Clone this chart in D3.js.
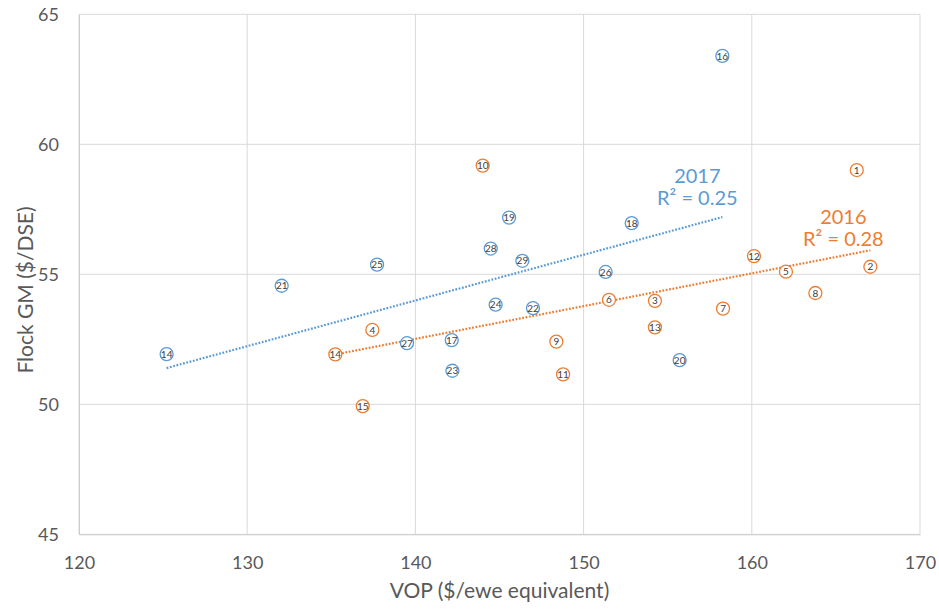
<!DOCTYPE html>
<html>
<head>
<meta charset="utf-8">
<script src="https://cdn.jsdelivr.net/npm/d3@7"></script>
<style>
  html, body { margin: 0; padding: 0; background: #fff; }
  svg { display: block; font-family: Lato, "Open Sans", sans-serif; }
</style>
</head>
<body>
<svg id="chart" width="939" height="610"></svg>
<script>
// Farm ids, VOP ($/ewe equivalent) and flock gross margin ($/DSE) per year
const ids2016 = [1, 2, 3, 4, 5, 6, 7, 8, 9, 10, 11, 12, 13, 14, 15];
const vop2016 = [166.24, 167.05, 154.24, 137.44, 162.03, 151.51, 158.29, 163.78, 148.38, 144.0, 148.78, 160.13, 154.24, 135.24, 136.87];
const gm2016  = [59.01, 55.29, 53.98, 52.86, 55.10, 54.02, 53.68, 54.28, 52.41, 59.18, 51.15, 55.70, 52.96, 51.92, 49.93];

const ids2017 = [14, 16, 17, 18, 19, 20, 21, 22, 23, 24, 25, 26, 27, 28, 29];
const vop2017 = [125.21, 158.25, 142.16, 152.86, 145.57, 155.71, 132.05, 146.99, 142.2, 144.77, 137.72, 151.31, 139.50, 144.48, 146.36];
const gm2017  = [51.93, 63.40, 52.47, 56.97, 57.18, 51.70, 54.56, 53.70, 51.29, 53.83, 55.37, 55.09, 52.35, 55.99, 55.52];

const seriesNames = ["2016", "2017"];
const rSquaredLabels = ["R² = 0.28", "R² = 0.25"];

const xTicks = [120, 130, 140, 150, 160, 170];
const yTicks = [45, 50, 55, 60, 65];
const xTitle = "VOP ($/ewe equivalent)";
const yTitle = "Flock GM ($/DSE)";

const colors = { "2016": "#ED7D31", "2017": "#5B9BD5" };

const svg = d3.select("#chart");
const plotLeft = 79, plotRight = 920, plotTop = 14.3, plotBottom = 534.3;

const x = d3.scaleLinear().domain([120, 170]).range([plotLeft, plotRight]);
const y = d3.scaleLinear().domain([45, 65]).range([plotBottom, plotTop]);

// gridlines
const grid = svg.append("g");
grid.selectAll("line.v").data(xTicks).join("line").attr("class", "v")
  .attr("x1", d => x(d)).attr("x2", d => x(d))
  .attr("y1", plotTop).attr("y2", plotBottom)
  .attr("stroke", "#D9D9D9").attr("stroke-width", 1);
grid.selectAll("line.h").data(yTicks).join("line").attr("class", "h")
  .attr("x1", plotLeft).attr("x2", plotRight)
  .attr("y1", d => y(d)).attr("y2", d => y(d))
  .attr("stroke", "#D9D9D9").attr("stroke-width", 1);

// axes
const xAxis = svg.append("g").attr("transform", `translate(0,${plotBottom})`)
  .call(d3.axisBottom(x).tickValues(xTicks).tickSize(0).tickPadding(0).tickFormat(d3.format("d")));
xAxis.select(".domain").attr("stroke", "#CCCCCC");
xAxis.selectAll("text").attr("y", 34.5).attr("dy", 0)
  .attr("fill", "#595959").style("font-size", "18px").style("font-family", "Lato");

const yAxis = svg.append("g").attr("transform", `translate(${plotLeft},0)`)
  .call(d3.axisLeft(y).tickValues(yTicks).tickSize(0).tickPadding(0).tickFormat(d3.format("d")));
yAxis.select(".domain").attr("stroke", "#CCCCCC");
yAxis.selectAll("text").attr("x", -20).attr("dy", "0.35em")
  .attr("fill", "#595959").style("font-size", "18px").style("font-family", "Lato");

// axis titles
svg.append("text").attr("x", (plotLeft + plotRight) / 2).attr("y", 598)
  .attr("text-anchor", "middle").attr("fill", "#595959")
  .style("font-size", "21px").text(xTitle);
svg.append("text").attr("transform", "translate(33,290) rotate(-90)")
  .attr("text-anchor", "middle").attr("fill", "#595959")
  .style("font-size", "21px").text(yTitle);

// least-squares trendline over the series' x range
function fit(xs, ys) {
  const n = xs.length;
  const mx = d3.mean(xs), my = d3.mean(ys);
  let sxy = 0, sxx = 0;
  for (let i = 0; i < n; i++) { sxy += (xs[i] - mx) * (ys[i] - my); sxx += (xs[i] - mx) ** 2; }
  const b = sxy / sxx, a = my - b * mx;
  const x0 = d3.min(xs), x1 = d3.max(xs);
  return [[x0, a + b * x0], [x1, a + b * x1]];
}

const series = [
  { name: seriesNames[0], ids: ids2016, xs: vop2016, ys: gm2016, r2: rSquaredLabels[0], dx: -27, dy: -4 },
  { name: seriesNames[1], ids: ids2017, xs: vop2017, ys: gm2017, r2: rSquaredLabels[1], dx: -25, dy: -12 }
];

series.forEach(s => {
  const line = fit(s.xs, s.ys);
  svg.append("line")
    .attr("x1", x(line[0][0])).attr("y1", y(line[0][1]))
    .attr("x2", x(line[1][0])).attr("y2", y(line[1][1]))
    .attr("stroke", colors[s.name]).attr("stroke-width", 2.2)
    .attr("stroke-dasharray", "1.8,1.6");

  // trendline label next to the line's right end
  const lx = x(line[1][0]) + s.dx, ly = y(line[1][1]) + s.dy;
  const lab = svg.append("text").attr("text-anchor", "middle")
    .attr("fill", colors[s.name]).style("font-size", "20px");
  lab.append("tspan").attr("x", lx).attr("y", ly - 22).text(s.name);
  lab.append("tspan").attr("x", lx).attr("y", ly).text(s.r2);
});

series.forEach(s => {
  const pts = s.ids.map((id, i) => ({ id, vx: s.xs[i], vy: s.ys[i] }));
  const g = svg.append("g");
  const p = g.selectAll("g").data(pts).join("g")
    .attr("transform", d => `translate(${x(d.vx)},${y(d.vy)})`);
  p.append("circle").attr("r", 6.5)
    .attr("fill", "#fff").attr("stroke", colors[s.name]).attr("stroke-width", 1.3);
  p.append("text").attr("text-anchor", "middle").attr("dy", "0.36em")
    .attr("fill", "#404040").style("font-size", "10px").text(d => d.id);
});
</script>
</body>
</html>
